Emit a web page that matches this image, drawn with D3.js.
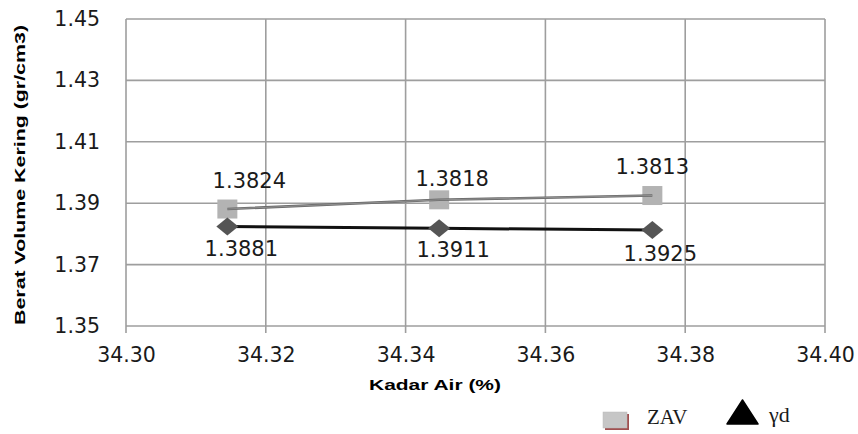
<!DOCTYPE html>
<html>
<head>
<meta charset="utf-8">
<script src="https://cdn.jsdelivr.net/npm/d3@7"></script>
<style>
html,body{margin:0;padding:0;background:#fff;}
svg{display:block;}
</style>
</head>
<body>
<svg id="chart" width="858" height="434"></svg>
<script>
// ---- data ----
const kadarAir = [34.3145, 34.3448, 34.3753];
const zavValues = [1.3881, 1.3911, 1.3925];
const gdValues = [1.3824, 1.3818, 1.3813];
const xTicks = [34.30, 34.32, 34.34, 34.36, 34.38, 34.40];
const yTicks = [1.35, 1.37, 1.39, 1.41, 1.43, 1.45];
const seriesNames = ["ZAV", "\u03b3d"];
const xTitle = "Kadar Air (%)";
const yTitle = "Berat Volume Kering (gr/cm3)";

// label nudges (layout only)
const topLabelShift = [[22, -21], [13, -14], [0, -22]];
const botLabelShift = [[14, 29], [14, 29], [8, 31]];

const svg = d3.select("#chart");
const m = {left: 126, right: 825, top: 19, bottom: 326};

const x = d3.scaleLinear().domain([34.30, 34.40]).range([m.left, m.right]);
const y = d3.scaleLinear().domain([1.35, 1.45]).range([m.bottom, m.top]);

const gridColor = "#9e9e9e";
const tickFont = "DejaVu Sans, Verdana, sans-serif";

// grid
svg.append("g").selectAll("line").data(yTicks).join("line")
  .attr("x1", m.left).attr("x2", m.right)
  .attr("y1", d => y(d)).attr("y2", d => y(d))
  .attr("stroke", gridColor).attr("stroke-width", 1.6);
svg.append("g").selectAll("line").data(xTicks).join("line")
  .attr("x1", d => x(d)).attr("x2", d => x(d))
  .attr("y1", m.top).attr("y2", m.bottom + 7)
  .attr("stroke", gridColor).attr("stroke-width", 1.6);

// x axis
const xAxis = d3.axisBottom(x).tickValues(xTicks).tickFormat(d3.format(".2f")).tickSize(0).tickPadding(0);
const gx = svg.append("g").attr("transform", `translate(0,${m.bottom})`).call(xAxis);
gx.select(".domain").remove();
gx.selectAll("text").attr("dy", null).attr("y", 36)
  .attr("font-family", tickFont).attr("font-size", 20.5).attr("fill", "#1a1a1a");

// y axis
const yAxis = d3.axisLeft(y).tickValues(yTicks).tickFormat(d3.format(".2f")).tickSize(0).tickPadding(26);
const gy = svg.append("g").attr("transform", `translate(${m.left},0)`).call(yAxis);
gy.select(".domain").remove();
gy.selectAll("text").attr("font-family", tickFont).attr("font-size", 20.5).attr("fill", "#1a1a1a");

// axis titles
svg.append("text").attr("x", 435).attr("y", 390).attr("text-anchor", "middle")
  .attr("font-family", "Liberation Sans, Arial, sans-serif").attr("font-weight", "bold")
  .attr("font-size", 15).attr("textLength", 132).attr("lengthAdjust", "spacingAndGlyphs")
  .text(xTitle);
svg.append("text").attr("transform", "translate(25,175) rotate(-90)").attr("text-anchor", "middle")
  .attr("font-family", "Liberation Sans, Arial, sans-serif").attr("font-weight", "bold")
  .attr("font-size", 15.5).attr("textLength", 300).attr("lengthAdjust", "spacingAndGlyphs")
  .text(yTitle);

const zav = kadarAir.map((k, i) => ({x: k, y: zavValues[i]}));
const gd = kadarAir.map((k, i) => ({x: k, y: gdValues[i]}));
const line = d3.line().x(d => x(d.x)).y(d => y(d.y));

// ZAV markers
svg.append("g").selectAll("rect").data(zav).join("rect")
  .attr("x", d => x(d.x) - 10).attr("y", d => y(d.y) - 9.5)
  .attr("width", 20).attr("height", 19).attr("fill", "#b3b3b3");
// ZAV line
svg.append("path").datum(zav).attr("d", line).attr("fill", "none")
  .attr("stroke", "#6a6a6a").attr("stroke-width", 2.6);
svg.append("path").datum(zav).attr("d", line).attr("fill", "none")
  .attr("stroke", "#9a9a9a").attr("stroke-width", 0.8);

// gd line
svg.append("path").datum(gd).attr("d", line).attr("fill", "none")
  .attr("stroke", "#111").attr("stroke-width", 3);
// gd markers (diamonds)
svg.append("g").selectAll("path").data(gd).join("path")
  .attr("d", d => {
    const cx = x(d.x), cy = y(d.y);
    return `M${cx - 11},${cy} L${cx},${cy - 9} L${cx + 11},${cy} L${cx},${cy + 9} Z`;
  }).attr("fill", "#555");

// data labels (as placed in reference)
svg.append("g").selectAll("text").data(gd).join("text")
  .attr("x", (d, i) => x(zav[i].x) + topLabelShift[i][0])
  .attr("y", (d, i) => y(zav[i].y) + topLabelShift[i][1])
  .attr("text-anchor", "middle").attr("font-family", tickFont).attr("font-size", 21)
  .attr("fill", "#1a1a1a").text(d => d.y.toFixed(4));
svg.append("g").selectAll("text").data(zav).join("text")
  .attr("x", (d, i) => x(gd[i].x) + botLabelShift[i][0])
  .attr("y", (d, i) => y(gd[i].y) + botLabelShift[i][1])
  .attr("text-anchor", "middle").attr("font-family", tickFont).attr("font-size", 21)
  .attr("fill", "#1a1a1a").text(d => d.y.toFixed(4));

// legend
const lg = svg.append("g");
lg.append("rect").attr("x", 605).attr("y", 414).attr("width", 24).attr("height", 16)
  .attr("fill", "#a05050");
lg.append("rect").attr("x", 603).attr("y", 412).attr("width", 24).attr("height", 16)
  .attr("fill", "#c6c6c6").attr("stroke", "#bbbbbb").attr("stroke-width", 0.5);
lg.append("text").attr("x", 647).attr("y", 424).attr("font-family", "Liberation Serif, Times New Roman, serif")
  .attr("font-size", 21).attr("fill", "#1a1a1a").text(seriesNames[0]);
lg.append("path").attr("d", "M727,424 L742.5,400 L758,424 Z").attr("fill", "#000")
  .attr("stroke", "#000").attr("stroke-width", 1.5).attr("stroke-linejoin", "round");
lg.append("text").attr("x", 769).attr("y", 422).attr("font-family", "Liberation Serif, Times New Roman, serif")
  .attr("font-size", 22).attr("fill", "#1a1a1a").text(seriesNames[1]);
</script>
</body>
</html>
